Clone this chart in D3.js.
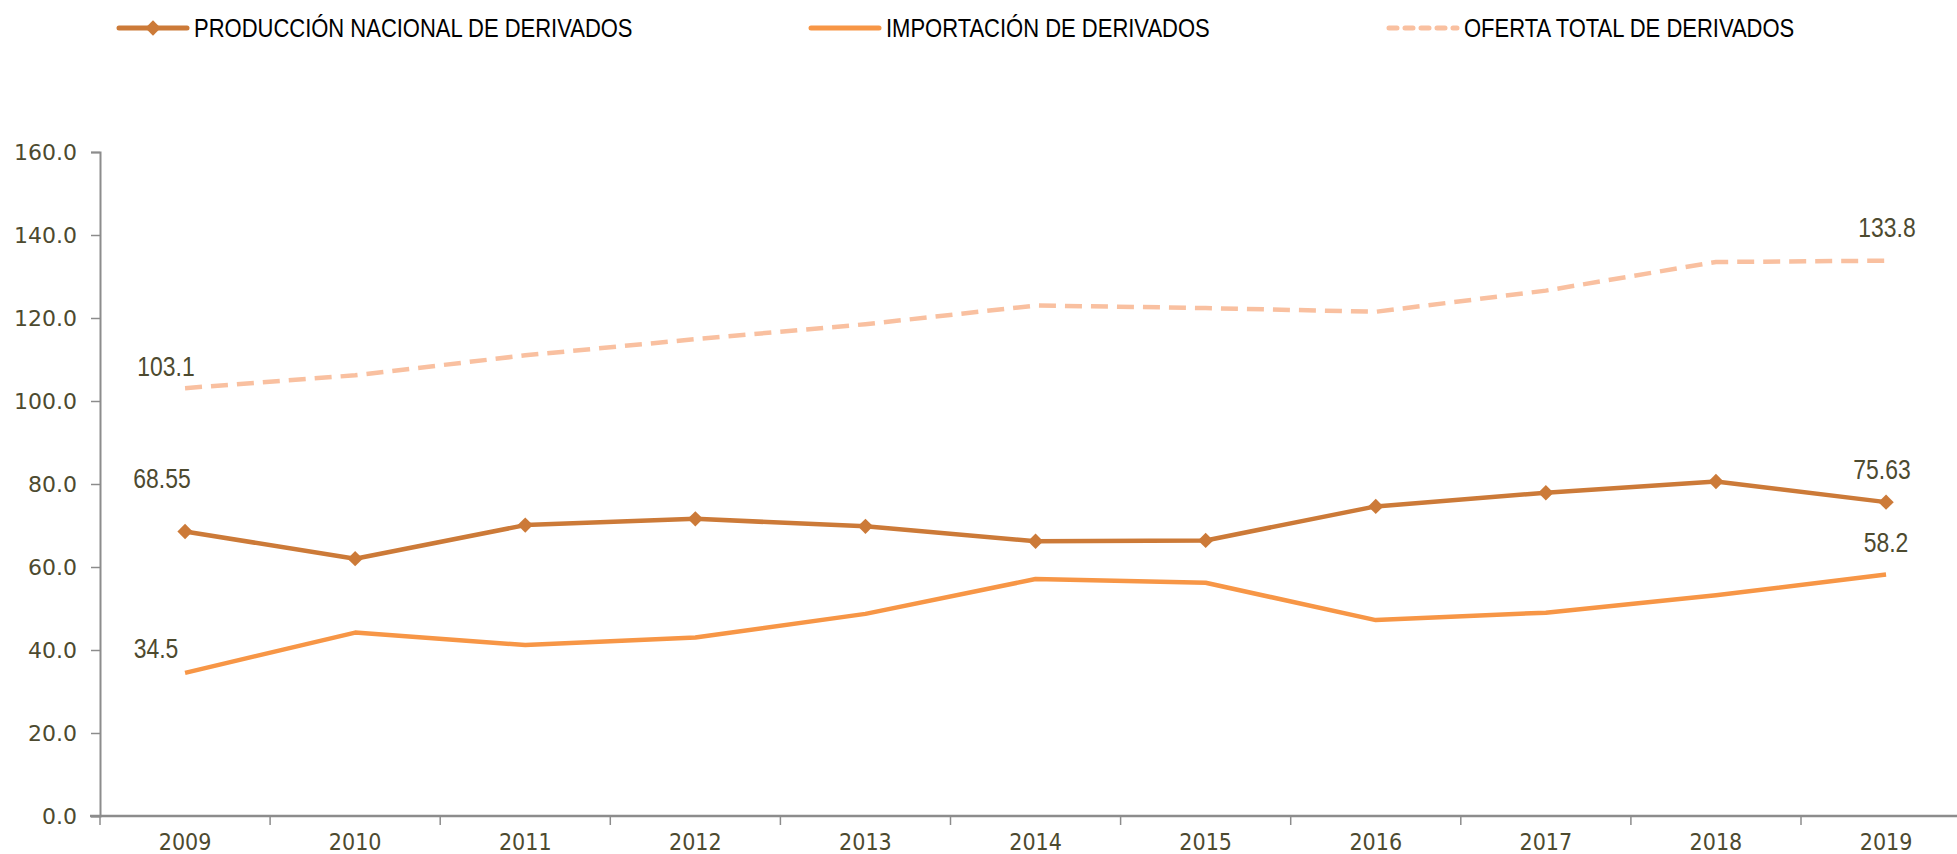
<!DOCTYPE html>
<html>
<head>
<meta charset="utf-8">
<script src="https://cdn.jsdelivr.net/npm/d3@7"></script>
<style>
  body { margin: 0; background: #fff; }
  svg { display: block; }
</style>
</head>
<body>
<div id="chart"></div>
<script>
const width = 1957;
const height = 854;

const years = ["2009", "2010", "2011", "2012", "2013", "2014", "2015", "2016", "2017", "2018", "2019"];
const produccion = [68.55, 62.0, 70.1, 71.6, 69.8, 66.2, 66.4, 74.6, 77.9, 80.6, 75.63];
const importacion = [34.5, 44.2, 41.2, 43.0, 48.7, 57.1, 56.2, 47.2, 49.0, 53.2, 58.2];
const oferta = [103.1, 106.2, 111.0, 114.9, 118.5, 123.0, 122.4, 121.5, 126.6, 133.5, 133.8];
const yTicks = [0, 20, 40, 60, 80, 100, 120, 140, 160];

const series = [
    { name: "PRODUCCIÓN NACIONAL DE DERIVADOS", values: produccion, color: "#cc7a38", dash: null, marker: true },
    { name: "IMPORTACIÓN DE DERIVADOS", values: importacion, color: "#f79646", dash: null, marker: false },
    { name: "OFERTA TOTAL DE DERIVADOS", values: oferta, color: "#f9c0a0", dash: "17,9", marker: false }
];

// data labels: first and last point of each series
const labels = [
    { s: 2, i: 0, text: "103.1", dx: -19, dy: -22 },
    { s: 0, i: 0, text: "68.55", dx: -23, dy: -53 },
    { s: 1, i: 0, text: "34.5", dx: -29, dy: -24 },
    { s: 2, i: 10, text: "133.8", dx: 1, dy: -33 },
    { s: 0, i: 10, text: "75.63", dx: -4, dy: -33 },
    { s: 1, i: 10, text: "58.2", dx: 0, dy: -32 }
];

const margin = { left: 100, top: 152, bottom: 816 };

const x = d3.scaleBand()
    .domain(years)
    .range([margin.left, margin.left + 170.1 * years.length]);

const y = d3.scaleLinear()
    .domain([0, 160])
    .range([margin.bottom, margin.top]);

const svg = d3.select("#chart").append("svg")
    .attr("width", width)
    .attr("height", height);

const textColor = "#4d4a2f";

// y axis
const yAxis = svg.append("g")
    .attr("transform", "translate(" + margin.left + ",0)")
    .call(d3.axisLeft(y).tickValues(yTicks).tickSize(9).tickPadding(14).tickFormat(d3.format(".1f")));
yAxis.select(".domain").attr("stroke", "#8c8c8c").attr("stroke-width", 2);
yAxis.selectAll(".tick line").attr("stroke", "#8c8c8c").attr("stroke-width", 1.5);
yAxis.selectAll("text")
    .attr("fill", textColor)
    .style("font-family", "'DejaVu Sans', Verdana, sans-serif")
    .style("font-size", "22px");

// x axis
const xAxis = svg.append("g")
    .attr("transform", "translate(0," + margin.bottom + ")");
xAxis.append("line")
    .attr("x1", margin.left - 10)
    .attr("x2", width)
    .attr("stroke", "#8c8c8c")
    .attr("stroke-width", 2.5);
xAxis.selectAll(".xtick")
    .data(years)
    .enter().append("line")
    .attr("class", "xtick")
    .attr("x1", d => x(d))
    .attr("x2", d => x(d))
    .attr("y1", 0)
    .attr("y2", 9)
    .attr("stroke", "#8c8c8c")
    .attr("stroke-width", 1.5);
xAxis.selectAll(".xlabel")
    .data(years)
    .enter().append("text")
    .attr("class", "xlabel")
    .attr("x", d => x(d) + x.bandwidth() / 2)
    .attr("y", 34)
    .attr("text-anchor", "middle")
    .attr("fill", textColor)
    .style("font-family", "'DejaVu Sans Condensed', 'DejaVu Sans', sans-serif")
    .style("font-size", "23px")
    .text(d => d);

const cx = i => x(years[i]) + x.bandwidth() / 2;

// lines
series.slice().reverse().forEach(function (s) {
    const line = d3.line()
        .x((d, i) => cx(i))
        .y(d => y(d));
    svg.append("path")
        .datum(s.values)
        .attr("d", line)
        .attr("fill", "none")
        .attr("stroke", s.color)
        .attr("stroke-width", 4.5)
        .attr("stroke-linejoin", "round")
        .attr("stroke-dasharray", s.dash);
    if (s.marker) {
        svg.selectAll(".marker")
            .data(s.values)
            .enter().append("path")
            .attr("class", "marker")
            .attr("d", d3.symbol(d3.symbolDiamond2, 150))
            .attr("transform", (d, i) => "translate(" + cx(i) + "," + y(d) + ")")
            .attr("fill", s.color);
    }
});

// data labels
svg.selectAll(".dlabel")
    .data(labels)
    .enter().append("text")
    .attr("class", "dlabel")
    .attr("text-anchor", "middle")
    .attr("dy", "0.35em")
    .attr("fill", textColor)
    .attr("transform", d => "translate(" + (cx(d.i) + d.dx) + "," + (y(series[d.s].values[d.i]) + d.dy) + ") scale(0.85,1)")
    .style("font-family", "'Liberation Sans', Arial, sans-serif")
    .style("font-size", "27px")
    .text(d => d.text);

// legend
const legendX = [119, 811, 1389];
const legend = svg.selectAll(".legend")
    .data(series)
    .enter().append("g")
    .attr("class", "legend")
    .attr("transform", (d, i) => "translate(" + legendX[i] + ",28)");

legend.append("line")
    .attr("x1", 0)
    .attr("x2", 68)
    .attr("stroke", d => d.color)
    .attr("stroke-width", 5)
    .attr("stroke-linecap", "round")
    .attr("stroke-dasharray", d => d.dash ? "8,8" : null);

legend.filter(d => d.marker).append("path")
    .attr("d", d3.symbol(d3.symbolDiamond2, 150))
    .attr("transform", "translate(34,0)")
    .attr("fill", d => d.color);

legend.append("text")
    .attr("transform", "translate(75,0) scale(0.88,1)")
    .attr("dy", "0.35em")
    .attr("fill", "#000")
    .style("font-family", "'Liberation Sans', Arial, sans-serif")
    .style("font-size", "25px")
    .text(d => d.name);
</script>
</body>
</html>
